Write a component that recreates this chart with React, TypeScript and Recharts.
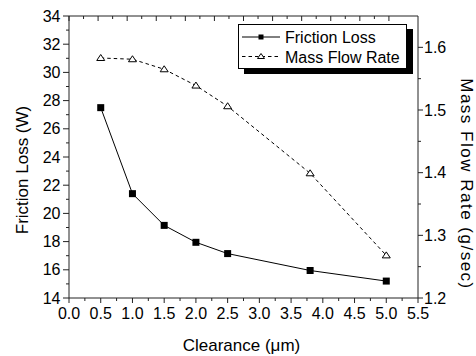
import { ComposedChart, Line, XAxis, YAxis } from "recharts";

// Friction loss / mass flow rate vs. clearance
const clearance = [0.5, 1.0, 1.5, 2.0, 2.5, 3.8, 5.0];
const frictionLoss = [27.5, 21.4, 19.15, 17.95, 17.15, 15.95, 15.2]; // W
const massFlowRate = [1.583, 1.581, 1.565, 1.539, 1.506, 1.399, 1.268]; // g/sec

const xMajor = [0, 0.5, 1.0, 1.5, 2.0, 2.5, 3.0, 3.5, 4.0, 4.5, 5.0, 5.5];
const xMinor = [0.25, 0.75, 1.25, 1.75, 2.25, 2.75, 3.25, 3.75, 4.25, 4.75, 5.25];
const leftMajor = [14, 16, 18, 20, 22, 24, 26, 28, 30, 32, 34];
const leftMinor = [15, 17, 19, 21, 23, 25, 27, 29, 31, 33];
const rightMajor = [1.2, 1.3, 1.4, 1.5, 1.6];
const rightMinor = [1.25, 1.35, 1.45, 1.55];

const data = clearance.map((c, i) => ({
  clearance: c,
  friction: frictionLoss[i],
  mass: massFlowRate[i],
}));

const FONT = "'Liberation Sans', Arial, Helvetica, sans-serif";
const AXIS = "#222";

const isMajor = (list: number[], v: number) => list.some((m) => Math.abs(m - v) < 1e-6);

// tick drawn by hand: tickSize/tickMargin are 0 so (x, y) sits on the axis line
function makeTick(side: "bottom" | "top" | "left" | "right", majors: number[], fmt: (v: number) => string) {
  return (props: any) => {
    const { x, y, payload } = props;
    const v = payload.value;
    const major = isMajor(majors, v);
    const len = major ? (side === "left" ? 6 : 5) : 3;
    const txt = { fontFamily: FONT, fontSize: 16, fill: "#000" };
    if (side === "bottom") {
      return (
        <g>
          <line x1={x} y1={y} x2={x} y2={y + len} stroke={AXIS} />
          {major && (
            <text x={x} y={y + 21} textAnchor="middle" {...txt}>
              {fmt(v)}
            </text>
          )}
        </g>
      );
    }
    if (side === "top") {
      return <line x1={x} y1={y} x2={x} y2={y + len} stroke={AXIS} />;
    }
    if (side === "left") {
      return (
        <g>
          <line x1={x - len} y1={y} x2={x} y2={y} stroke={AXIS} />
          {major && (
            <text x={x - 8.5} y={y} dy="0.35em" textAnchor="end" {...txt}>
              {fmt(v)}
            </text>
          )}
        </g>
      );
    }
    return (
      <g>
        <line x1={x} y1={y} x2={x + len} y2={y} stroke={AXIS} />
        {major && (
          <text x={x + 6} y={y} dy="0.35em" textAnchor="start" {...txt}>
            {fmt(v)}
          </text>
        )}
      </g>
    );
  };
}

const titleStyle = { fontFamily: FONT, fontSize: 17, fill: "#000" };

const BottomTitle = ({ viewBox }: any) => (
  <text x={viewBox.x + viewBox.width / 2 - 2} y={viewBox.y + 52.5} textAnchor="middle" {...titleStyle}>
    Clearance (μm)
  </text>
);

const LeftTitle = ({ viewBox }: any) => {
  const cx = 22;
  const cy = viewBox.y + viewBox.height / 2 + 13;
  return (
    <text x={cx} y={cy} dy="0.35em" textAnchor="middle" transform={`rotate(-90 ${cx} ${cy})`} {...titleStyle}>
      Friction Loss (W)
    </text>
  );
};

const RightTitle = ({ viewBox }: any) => {
  const cx = viewBox.x + 49;
  const cy = viewBox.y + viewBox.height / 2 + 27;
  return (
    <text
      x={cx}
      y={cy}
      dy="0.35em"
      textAnchor="middle"
      transform={`rotate(90 ${cx} ${cy})`}
      letterSpacing={1.5}
      {...titleStyle}
    >
      Mass Flow Rate (g/sec)
    </text>
  );
};

const SquareDot = (props: any) => {
  const { cx, cy, index } = props;
  return <rect key={`sq-${index}`} x={cx - 3.5} y={cy - 3.5} width={7} height={7} fill="#000" />;
};

const TriangleDot = (props: any) => {
  const { cx, cy, index } = props;
  return (
    <polygon
      key={`tri-${index}`}
      points={`${cx},${cy - 3.5} ${cx - 4},${cy + 2.5} ${cx + 4},${cy + 2.5}`}
      fill="#fff"
      stroke="#000"
      strokeWidth={1}
    />
  );
};

// legend box inside the chart svg: framed box with a solid black drop shadow
const LegendBox = ({ x, y }: { x: number; y: number }) => (
  <g transform={`translate(${x},${y})`}>
    <rect x={169} y={5} width={6} height={45} fill="#000" />
    <rect x={6} y={45} width={169} height={5} fill="#000" />
    <rect x={0.5} y={0.5} width={168} height={44} fill="#fff" stroke="#000" />
    <line x1={4} y1={13} x2={42} y2={13} stroke="#000" />
    <rect x={20.5} y={10.5} width={5} height={5} fill="#000" />
    <text x={47} y={19} fontFamily={FONT} fontSize={16} fill="#000">
      Friction Loss
    </text>
    <line x1={4} y1={32.5} x2={42} y2={32.5} stroke="#000" strokeDasharray="3.5 3" />
    <polygon points="23,29.5 19.5,34.5 26.5,34.5" fill="#fff" stroke="#000" />
    <text x={47} y={38.5} fontFamily={FONT} fontSize={16} fill="#000">
      Mass Flow Rate
    </text>
  </g>
);

export default function App() {
  const xTicks = [...xMajor, ...xMinor].sort((a, b) => a - b);
  const leftTicks = [...leftMajor, ...leftMinor].sort((a, b) => a - b);
  const rightTicks = [...rightMajor, ...rightMinor].sort((a, b) => a - b);

  return (
    <div style={{ position: "absolute", left: 0, top: 0, width: 476, height: 356, background: "#fff" }}>
      <ComposedChart width={476} height={356} data={data} margin={{ top: 15, right: 8, bottom: 18, left: 9 }}>
        <XAxis
          xAxisId="bottom"
          dataKey="clearance"
          type="number"
          domain={[0, 5.5]}
          allowDataOverflow
          ticks={xTicks}
          interval={0}
          height={40}
          tickSize={0}
          tickMargin={0}
          tickLine={false}
          axisLine={{ stroke: AXIS }}
          tick={makeTick("bottom", xMajor, (v) => v.toFixed(1))}
          label={BottomTitle}
        />
        <XAxis
          xAxisId="top"
          orientation="top"
          type="number"
          domain={[0, 5.5]}
          allowDataOverflow
          ticks={xTicks}
          interval={0}
          height={1}
          tickSize={0}
          tickMargin={0}
          tickLine={false}
          axisLine={{ stroke: AXIS }}
          tick={makeTick("top", xMajor, (v) => v.toFixed(1))}
        />
        <YAxis
          yAxisId="left"
          type="number"
          domain={[14, 34]}
          allowDataOverflow
          ticks={leftTicks}
          interval={0}
          width={60}
          tickSize={0}
          tickMargin={0}
          tickLine={false}
          axisLine={{ stroke: AXIS }}
          tick={makeTick("left", leftMajor, (v) => String(v))}
          label={LeftTitle}
        />
        <YAxis
          yAxisId="right"
          orientation="right"
          type="number"
          domain={[1.2, 1.65]}
          allowDataOverflow
          ticks={rightTicks}
          interval={0}
          width={50}
          tickSize={0}
          tickMargin={0}
          tickLine={false}
          axisLine={{ stroke: AXIS }}
          tick={makeTick("right", rightMajor, (v) => v.toFixed(1))}
          label={RightTitle}
        />
        <Line
          xAxisId="bottom"
          yAxisId="right"
          type="linear"
          dataKey="mass"
          stroke="#000"
          strokeWidth={1}
          strokeDasharray="3.5 3"
          dot={TriangleDot}
          activeDot={false}
          isAnimationActive={false}
        />
        <Line
          xAxisId="bottom"
          yAxisId="left"
          type="linear"
          dataKey="friction"
          stroke="#000"
          strokeWidth={1}
          dot={SquareDot}
          activeDot={false}
          isAnimationActive={false}
        />
        <LegendBox x={238} y={24} />
      </ComposedChart>
    </div>
  );
}
